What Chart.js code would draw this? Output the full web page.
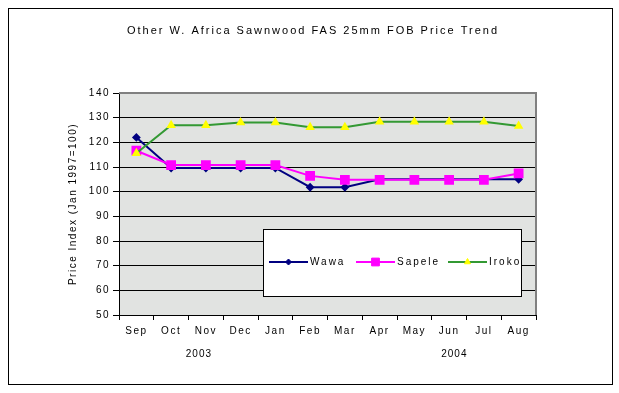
<!DOCTYPE html>
<html>
<head>
<meta charset="utf-8">
<script src="https://cdn.jsdelivr.net/npm/chart.js@4/dist/chart.umd.min.js"></script>
<style>
  html, body { margin: 0; padding: 0; background: #fff; }
  #wrap { position: relative; width: 619px; height: 393px; }
</style>
</head>
<body>
<div id="wrap"><canvas id="priceChart" width="619" height="393"></canvas></div>
<script>
// --- data ---
const months = ['Sep', 'Oct', 'Nov', 'Dec', 'Jan', 'Feb', 'Mar', 'Apr', 'May', 'Jun', 'Jul', 'Aug'];
const years = ['2003', '2004'];
const wawa   = [122, 109.6, 109.6, 109.6, 109.6, 101.8, 101.8, 105, 105, 105, 105, 105];
const sapele = [116.6, 110.8, 110.8, 110.8, 110.8, 106.4, 104.8, 104.8, 104.8, 104.8, 104.8, 107.4];
const iroko  = [115.6, 126.9, 126.9, 128, 128, 126.1, 126.1, 128.3, 128.3, 128.3, 128.3, 126.6];
const yTicks = { min: 50, max: 140, step: 10 };

const chartTitle = 'Other W. Africa Sawnwood FAS 25mm FOB Price Trend';
const yTitle = 'Price Index (Jan 1997=100)';
const FONT = "'Liberation Sans', Arial, sans-serif";

// plot background, frame and letter spacing
const framePlugin = {
    id: 'frame',
    beforeDraw(chart) {
        const { ctx, chartArea: a } = chart;
        ctx.letterSpacing = '1.5px';
        ctx.save();
        ctx.strokeStyle = '#000';
        ctx.lineWidth = 1;
        ctx.strokeRect(8.5, 8.5, 604, 376);
        ctx.fillStyle = '#e1e3e1';
        ctx.fillRect(a.left, a.top, a.right - a.left, a.bottom - a.top);
        ctx.restore();
    },
    beforeDatasetsDraw(chart) {
        const { ctx, chartArea: a } = chart;
        ctx.save();
        ctx.strokeStyle = '#808080';
        ctx.lineWidth = 2;
        ctx.beginPath();
        ctx.moveTo(a.left, a.top);
        ctx.lineTo(a.right, a.top);
        ctx.lineTo(a.right, a.bottom);
        ctx.stroke();
        ctx.restore();
    },
    afterDraw(chart) {
        const { ctx } = chart;
        const x = chart.scales.x;
        ctx.save();
        ctx.fillStyle = '#000';
        ctx.textAlign = 'center';
        ctx.textBaseline = 'middle';
        // title
        ctx.font = '11px ' + FONT;
        ctx.letterSpacing = '2px';
        ctx.fillText(chartTitle, 313, 31);
        // year group labels
        ctx.font = '10px ' + FONT;
        ctx.letterSpacing = '1px';
        const yearAt = [1.8, 9.15];
        years.forEach((yr, i) => ctx.fillText(yr, x.getPixelForValue(yearAt[i]), 354));
        ctx.restore();
    }
};

// legend box drawn inside the plot area
const legendBox = {
    id: 'legendBox',
    afterDatasetsDraw(chart) {
        const { ctx } = chart;
        const box = { x: 263.5, y: 229.5, w: 258, h: 67 };
        ctx.save();
        ctx.fillStyle = '#fff';
        ctx.fillRect(box.x, box.y, box.w, box.h);
        ctx.strokeStyle = '#000';
        ctx.lineWidth = 1;
        ctx.strokeRect(box.x, box.y, box.w, box.h);
        const cy = 262;
        const starts = [269, 356, 448];
        ctx.font = '10px ' + FONT;
        ctx.letterSpacing = '2px';
        ctx.textBaseline = 'middle';
        chart.data.datasets.forEach((ds, i) => {
            const x0 = starts[i];
            ctx.strokeStyle = ds.borderColor;
            ctx.lineWidth = 2;
            ctx.beginPath();
            ctx.moveTo(x0, cy);
            ctx.lineTo(x0 + 39, cy);
            ctx.stroke();
            ctx.fillStyle = ds.pointBackgroundColor;
            ctx.strokeStyle = ds.pointBorderColor;
            ctx.lineWidth = 1;
            Chart.helpers.drawPoint(ctx, {
                pointStyle: ds.pointStyle, radius: ds.pointRadius, rotation: 0, borderWidth: 1
            }, x0 + 19.5, cy);
            ctx.fillStyle = '#000';
            ctx.textAlign = 'left';
            ctx.fillText(ds.label, x0 + 41, cy);
        });
        ctx.restore();
    }
};

const ctx = document.getElementById('priceChart').getContext('2d');
new Chart(ctx, {
    type: 'line',
    data: {
        labels: months,
        datasets: [
            {
                label: 'Wawa', data: wawa, order: 3,
                borderColor: '#000080', borderWidth: 2,
                pointStyle: 'rectRot', pointRadius: 3,
                pointBackgroundColor: '#000080', pointBorderColor: '#000080'
            },
            {
                label: 'Sapele', data: sapele, order: 2,
                borderColor: '#ff00ff', borderWidth: 2,
                pointStyle: 'rect', pointRadius: 5.5,
                pointBackgroundColor: '#ff00ff', pointBorderColor: '#ff00ff'
            },
            {
                label: 'Iroko', data: iroko, order: 1,
                borderColor: '#339933', borderWidth: 2,
                pointStyle: 'triangle', pointRadius: 3.5,
                pointBackgroundColor: '#ffff00', pointBorderColor: '#ffff00'
            }
        ]
    },
    plugins: [framePlugin, legendBox],
    options: {
        responsive: false,
        animation: false,
        layout: { padding: { left: 66, top: 93, right: 83, bottom: 38 } },
        elements: { line: { tension: 0 } },
        plugins: {
            legend: { display: false },
            title: { display: false },
            tooltip: { enabled: false }
        },
        scales: {
            x: {
                offset: true,
                afterFit: s => { s.height = 40; },
                grid: {
                    offset: true, drawOnChartArea: false, drawTicks: true,
                    tickLength: 5, color: '#000', lineWidth: 1
                },
                border: { color: '#000', width: 1 },
                ticks: { color: '#000', font: { family: FONT, size: 10 }, padding: 5, maxRotation: 0, autoSkip: false }
            },
            y: {
                min: yTicks.min, max: yTicks.max,
                afterFit: s => { s.width = 53; },
                grid: { color: '#000', lineWidth: 1, tickLength: 6 },
                border: { color: '#000', width: 1 },
                ticks: { stepSize: yTicks.step, color: '#000', font: { family: FONT, size: 10 }, padding: 3 },
                title: {
                    display: true, text: yTitle, color: '#000',
                    font: { family: FONT, size: 10 }, padding: { top: 1, bottom: 0 }
                }
            }
        }
    }
});
</script>
</body>
</html>
